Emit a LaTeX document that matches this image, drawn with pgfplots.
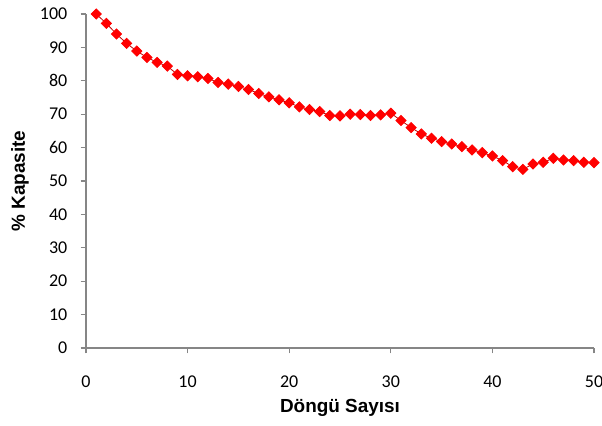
\documentclass[border=0pt]{standalone}
\usepackage{fontspec}
\setmainfont{Liberation Sans}
\newfontfamily\tickfont{Carlito}
\usepackage{pgfplots}
\pgfplotsset{compat=1.18}
\definecolor{axgray}{RGB}{134,134,134}
\begin{document}
\begin{tikzpicture}
\begin{axis}[
  scale only axis,
  width=381pt, height=250.5pt,
  xmin=0, xmax=50, ymin=0, ymax=100,
  xtick={0,10,...,50}, ytick={0,10,...,100},
  axis x line*=bottom, axis y line*=left,
  axis line style={axgray, line width=0.8pt, -},
  tick style={axgray, line width=0.8pt},
  tick align=outside,
  major tick length=4pt,
  /pgf/number format/assume math mode=true,
  tick label style={font=\tickfont\fontsize{13.5}{15}\selectfont},
  xticklabel style={yshift=-13pt},
  yticklabel style={xshift=-6.5pt},
  xlabel={\textbf{Döngü Sayısı}},
  ylabel={\textbf{\% Kapasite}},
  label style={font=\fontsize{14.2}{16}\selectfont},
  xlabel style={at={(axis description cs:0.5,0)}, anchor=center, yshift=-45pt},
  ylabel style={at={(axis description cs:0,0.5)}, anchor=center, yshift=49.5pt},
  clip=false,
]
\addplot[color=red!75!black, line width=0.6pt, mark=square*, mark size=2.7pt,
  mark options={rotate=45, fill=red, draw=red}] coordinates {
(1,100.0) (2,97.2) (3,94.0) (4,91.2) (5,88.9) (6,87.0) (7,85.5) (8,84.4)
(9,81.9) (10,81.5) (11,81.2) (12,80.7) (13,79.5) (14,79.0) (15,78.3) (16,77.4)
(17,76.2) (18,75.2) (19,74.3) (20,73.4) (21,72.2) (22,71.4) (23,70.8) (24,69.6)
(25,69.5) (26,70.0) (27,69.9) (28,69.6) (29,69.8) (30,70.3) (31,68.1) (32,66.0)
(33,64.1) (34,62.8) (35,61.8) (36,61.1) (37,60.3) (38,59.3) (39,58.5) (40,57.5)
(41,56.1) (42,54.3) (43,53.5) (44,55.1) (45,55.6) (46,56.8) (47,56.3) (48,56.1)
(49,55.6) (50,55.5)
};
\end{axis}
\pgfresetboundingbox
\useasboundingbox (-64.5pt,-57.75pt) rectangle (387pt,261pt);
\end{tikzpicture}
\end{document}
